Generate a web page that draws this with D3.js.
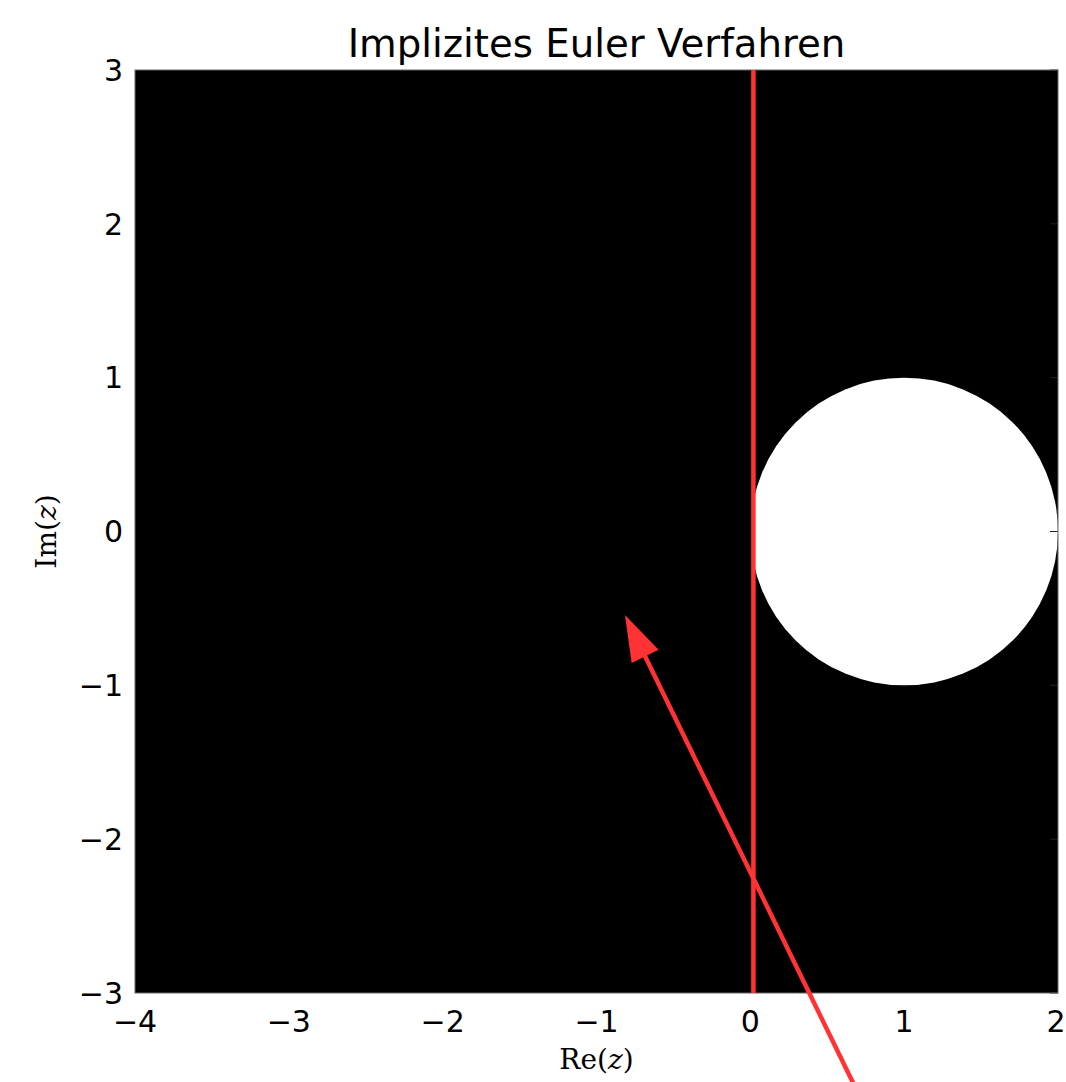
<!DOCTYPE html>
<html>
<head>
<meta charset="utf-8">
<script src="https://cdn.jsdelivr.net/npm/d3@7"></script>
<style>
  html, body { margin: 0; padding: 0; background: #fff; }
  svg { display: block; }
</style>
</head>
<body>
<div id="chart"></div>
<script>
// data
const xDomain = [-4, 2]
const yDomain = [-3, 3]
const xTicks = [-4, -3, -2, -1, 0, 1, 2]
const yTicks = [-3, -2, -1, 0, 1, 2, 3]
// white region: |1 - z| < 1 (unstable part of implicit Euler)
const discCenter = [1, 0]
const discRadius = 1
// red vertical line (imaginary axis)
const lineX = [0.02]
// arrow from tail to tip
const arrowTail = [0.7, -3.65]
const arrowTip = [-0.815, -0.543]

const titleText = 'Implizites Euler Verfahren'

const W = 1066, H = 1082
const margin = { top: 70, left: 135, right: 8, bottom: 89 }
const width = W - margin.left - margin.right
const height = H - margin.top - margin.bottom

const red = '#ff3333'

const root = d3.select('#chart')
  .append('svg')
  .attr('width', W)
  .attr('height', H)

const svg = root.append('g')
  .attr('transform', 'translate(' + margin.left + ',' + margin.top + ')')

const x = d3.scaleLinear().domain(xDomain).range([0, width])
const y = d3.scaleLinear().domain(yDomain).range([height, 0])

// clip for the disc: plot area right of the red line
root.append('defs').append('clipPath').attr('id', 'discclip')
  .append('rect')
  .attr('x', x(lineX[0]))
  .attr('width', width - x(lineX[0]))
  .attr('height', height)

// black background = stable region
svg.append('rect')
  .attr('width', width)
  .attr('height', height)
  .attr('fill', '#000')

svg.append('g').attr('clip-path', 'url(#discclip)')
  .append('ellipse')
  .attr('cx', x(discCenter[0]))
  .attr('cy', y(discCenter[1]))
  .attr('rx', x(discCenter[0] + discRadius) - x(discCenter[0]))
  .attr('ry', y(discCenter[1] - discRadius) - y(discCenter[1]))
  .attr('fill', '#fff')

// inward ticks on the right spine (only visible on white)
const tickLen = 8
svg.append('g').selectAll('line')
  .data(yTicks)
  .enter().append('line')
  .attr('x1', width - tickLen).attr('x2', width)
  .attr('y1', d => y(d)).attr('y2', d => y(d))
  .attr('stroke', '#222').attr('stroke-width', 1)

// frame
svg.append('rect')
  .attr('width', width)
  .attr('height', height)
  .attr('fill', 'none')
  .attr('stroke', '#666')
  .attr('stroke-width', 1)

// red vertical line
svg.selectAll('.vline')
  .data(lineX)
  .enter().append('line')
  .attr('class', 'vline')
  .attr('x1', d => x(d)).attr('x2', d => x(d))
  .attr('y1', 0).attr('y2', height)
  .attr('stroke', red)
  .attr('stroke-width', 4.5)

// arrow
const tx = x(arrowTip[0]), ty = y(arrowTip[1])
const sx = x(arrowTail[0]), sy = y(arrowTail[1])
const len = Math.hypot(tx - sx, ty - sy)
const ux = (tx - sx) / len, uy = (ty - sy) / len
const headLen = 46, headW = 30
const bx = tx - ux * headLen, by = ty - uy * headLen
svg.append('line')
  .attr('x1', sx).attr('y1', sy)
  .attr('x2', bx + ux * 4).attr('y2', by + uy * 4)
  .attr('stroke', red)
  .attr('stroke-width', 4.5)
svg.append('path')
  .attr('d', 'M' + tx + ',' + ty +
    'L' + (bx - uy * headW / 2) + ',' + (by + ux * headW / 2) +
    'L' + (bx + uy * headW / 2) + ',' + (by - ux * headW / 2) + 'Z')
  .attr('fill', red)

// tick labels
const tickFont = 'DejaVu Sans, sans-serif'
const fmt = d => d < 0 ? '\u2212' + Math.abs(d) : String(d)

svg.append('g').selectAll('text')
  .data(xTicks)
  .enter().append('text')
  // keep the last label inside the page
  .attr('x', d => Math.min(x(d), width - 2))
  .attr('y', height + 39)
  .attr('text-anchor', 'middle')
  .attr('font-family', tickFont)
  .attr('font-size', 30)
  .text(fmt)

svg.append('g').selectAll('text')
  .data(yTicks)
  .enter().append('text')
  .attr('x', -12)
  .attr('y', d => y(d))
  .attr('dy', '0.36em')
  .attr('text-anchor', 'end')
  .attr('font-family', tickFont)
  .attr('font-size', 30)
  .text(fmt)

// title
root.append('text')
  .attr('x', margin.left + width / 2)
  .attr('y', 57)
  .attr('text-anchor', 'middle')
  .attr('font-family', tickFont)
  .attr('font-size', 38.7)
  .text(titleText)

// axis labels (mathtext style)
const serif = 'DejaVu Serif, serif'
const xl = root.append('text')
  .attr('x', margin.left + width / 2)
  .attr('y', 1069)
  .attr('text-anchor', 'middle')
  .attr('font-family', serif)
  .attr('font-size', 28)
xl.append('tspan').text('Re(')
xl.append('tspan').attr('font-style', 'italic').text('z')
xl.append('tspan').text(')')

const yl = root.append('text')
  .attr('transform', 'translate(56,' + (margin.top + height / 2) + ') rotate(-90)')
  .attr('text-anchor', 'middle')
  .attr('font-family', serif)
  .attr('font-size', 28)
yl.append('tspan').text('Im(')
yl.append('tspan').attr('font-style', 'italic').text('z')
yl.append('tspan').text(')')
</script>
</body>
</html>
